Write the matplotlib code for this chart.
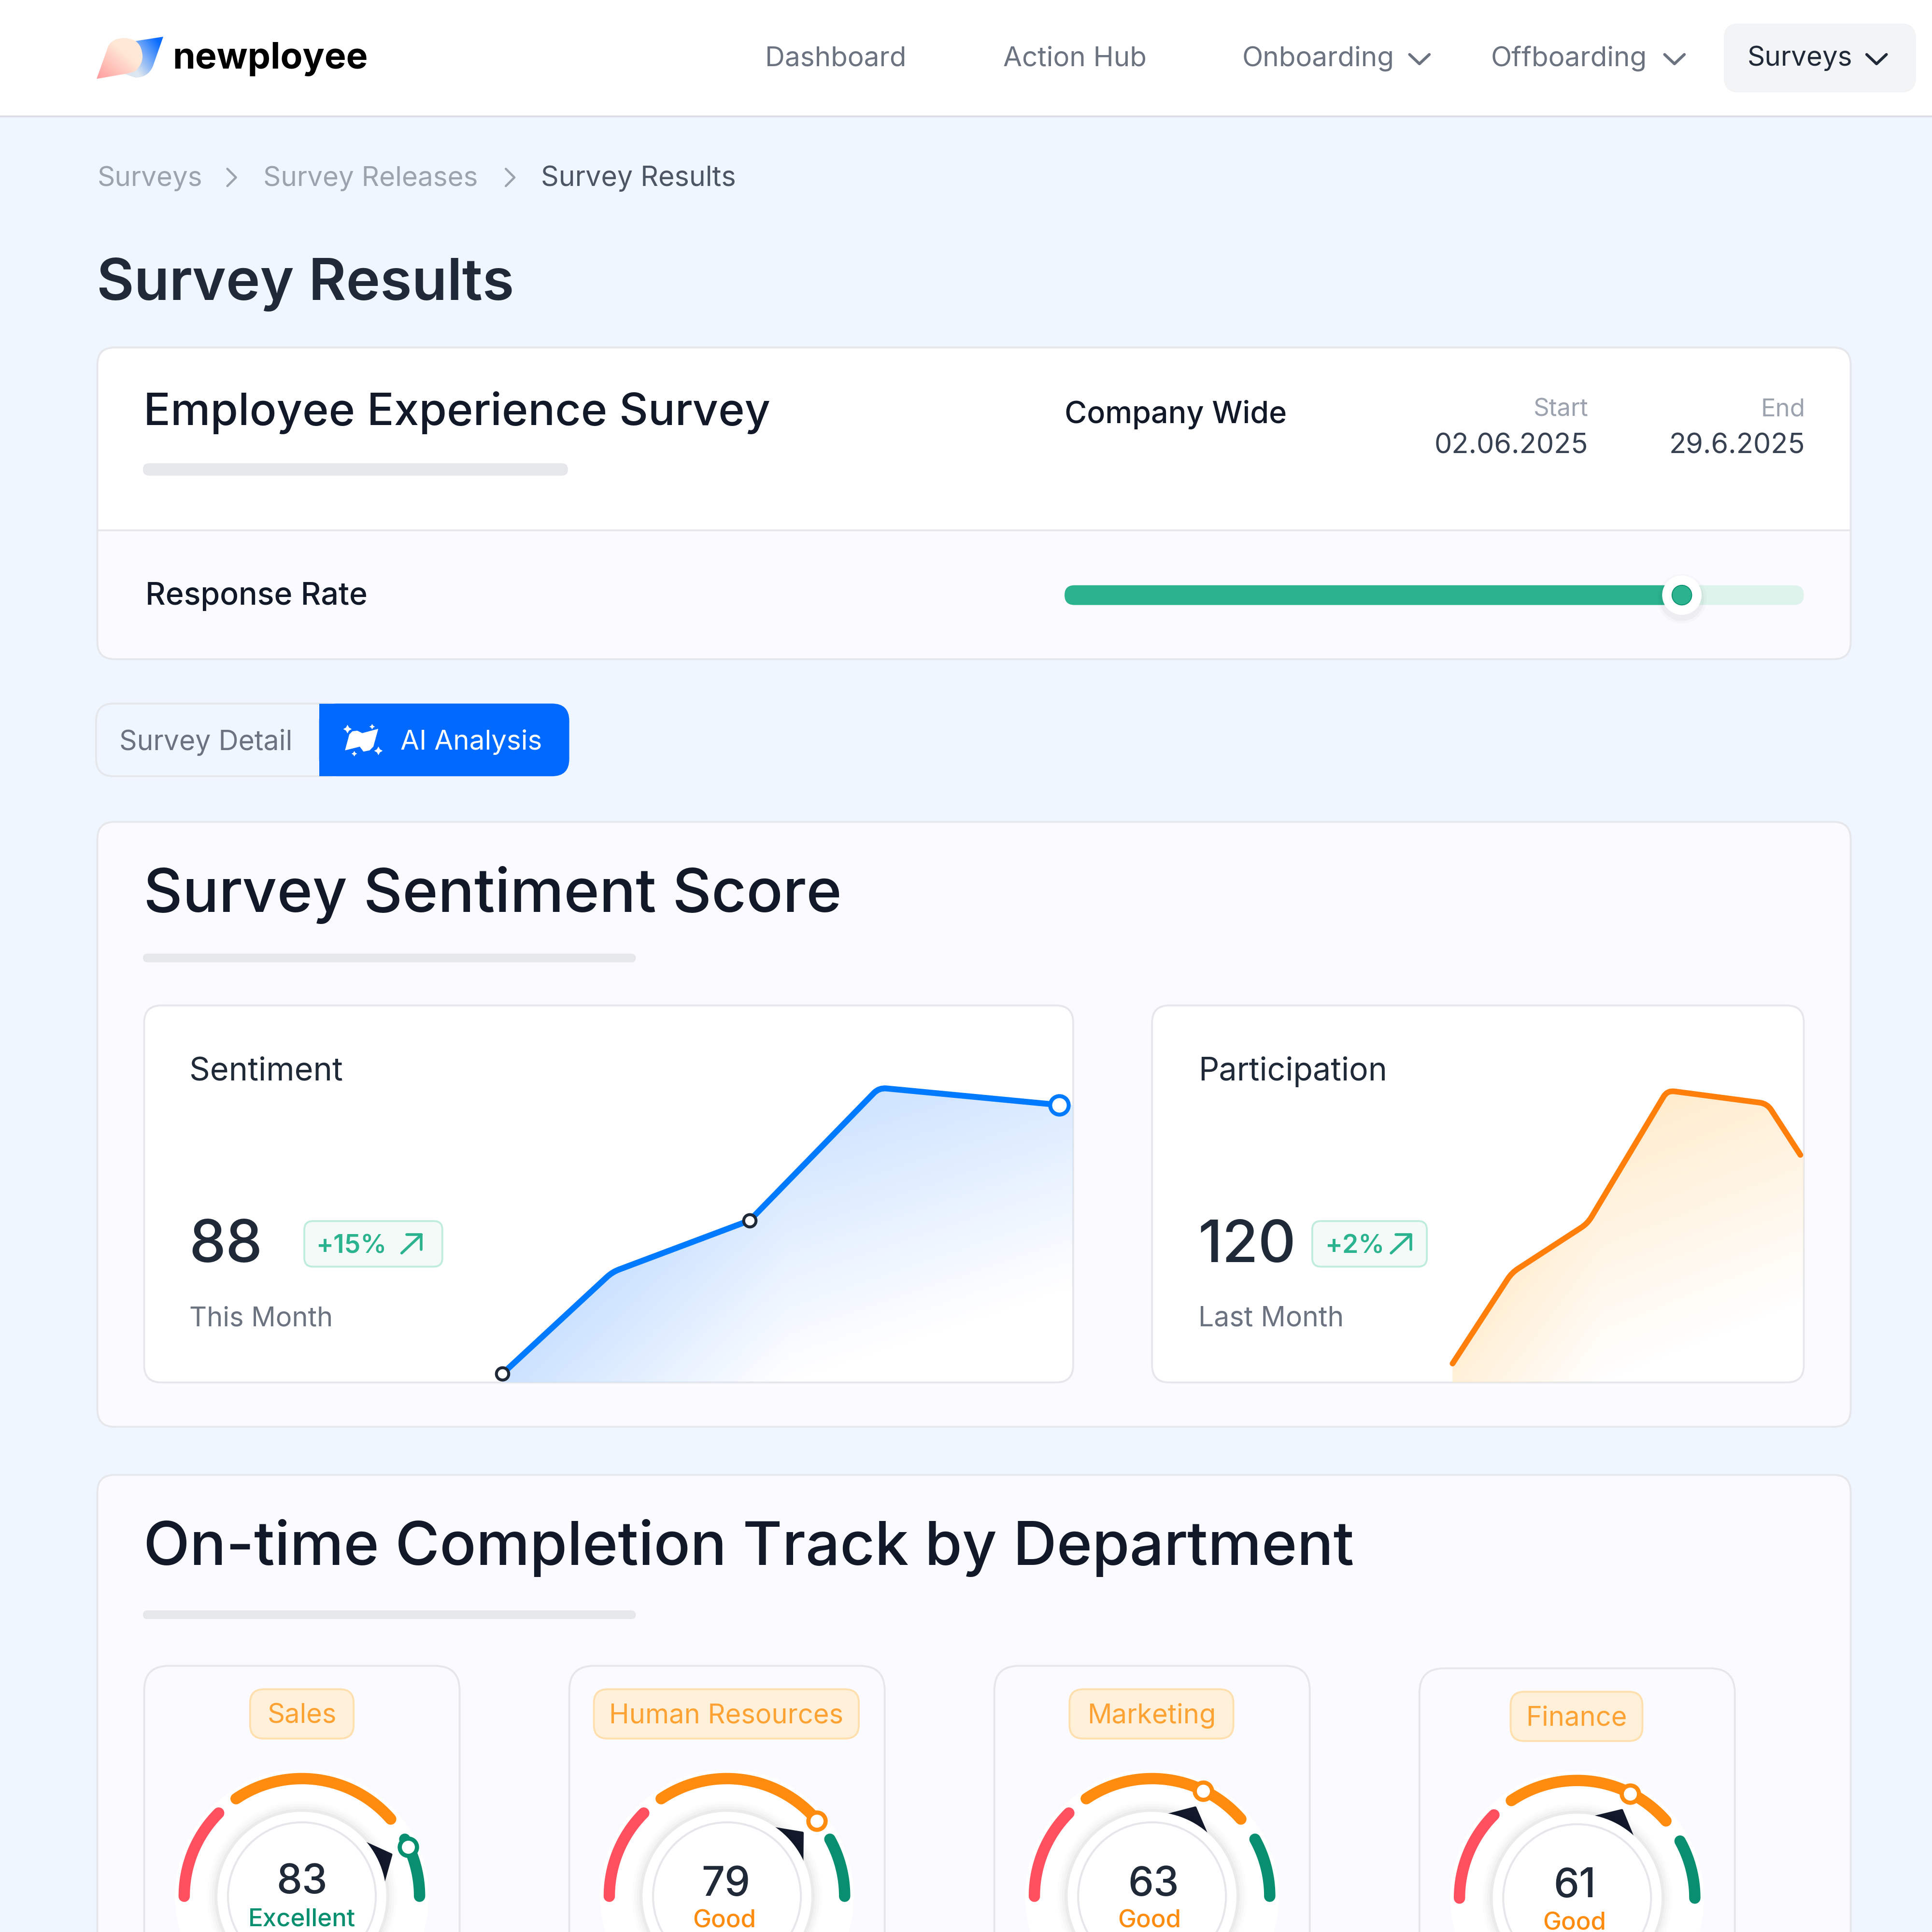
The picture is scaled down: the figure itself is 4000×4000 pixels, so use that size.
#!/usr/bin/env python3
"""Survey results dashboard: header, sentiment line charts, department gauges."""
import numpy as np
import matplotlib.pyplot as plt
from matplotlib.colors import to_rgb
from matplotlib.patches import Circle, FancyBboxPatch, PathPatch, Polygon, Rectangle
from matplotlib.path import Path

plt.rcParams['font.family'] = ['Inter', 'DejaVu Sans']

# colours
BG = '#EFF6FF'
PANEL = '#FAFAFF'
EDGE = '#E5E7EB'
INK = '#1F2937'
DARK = '#111827'
GREY = '#6B7280'
LIGHT = '#9CA3AF'
BLUE = '#0069FF'
LINE_BLUE = '#007BFF'
ORANGE = '#FF8C0F'
LINE_ORANGE = '#FF7F0A'
GREEN = '#2AB38E'
DEEP_GREEN = '#078F6F'
RED = '#FF5060'
NAVY = '#141B2D'

# data
nav_items = ['Dashboard', 'Action Hub', 'Onboarding', 'Offboarding', 'Surveys']
crumbs = ['Surveys', 'Survey Releases', 'Survey Results']
response_rate = 83.5

sentiment_x = [3.3, 21.9, 45.2, 67.1, 97.6]
sentiment_y = [2.6, 32.7, 48.0, 87.3, 82.2]
participation_x = [9.2, 24.5, 44.1, 64.7, 90.5, 99.1]
participation_y = [5.6, 32.5, 47.1, 86.5, 82.6, 67.4]

departments = ['Sales', 'Human Resources', 'Marketing', 'Finance']
scores = [83, 79, 63, 61]
ratings = ['Excellent', 'Good', 'Good', 'Good']
marker_angles = [25, 40, 64, 63]
zone_starts = [180, 124, 29]
zone_ends = [135, 41, 0]

S = 1568
fig = plt.figure(figsize=(10, 10), dpi=400, facecolor=BG)
ax = fig.add_axes([0, 0, 1, 1])
ax.set_xlim(0, S)
ax.set_ylim(S, 0)
ax.axis('off')

FS = 4000 / S * 72 / 400  # layout unit to points


def text(x, y, s, size, color=INK, weight='normal', ha='left', z=10):
    # va center sits high for latin text, push it down with the size
    return ax.text(x, y + size * 0.09, s, fontsize=size * FS, color=color, fontweight=weight,
                   ha=ha, va='center', zorder=z)


def box(x0, y0, x1, y1, r, face, edge=None, lw=1.5, z=2):
    p = FancyBboxPatch((x0, y0), x1 - x0, y1 - y0, boxstyle=f'round,pad=0,rounding_size={r}',
                       facecolor=face, edgecolor=edge if edge else 'none',
                       linewidth=lw * FS, zorder=z)
    ax.add_patch(p)
    return p


def chevron_down(x, y, w=8, h=3.8, color=GREY):
    ax.plot([x - w, x, x + w], [y - h, y + h, y - h], color=color, lw=2.3 * FS,
            solid_capstyle='round', solid_joinstyle='round', zorder=10)


def chevron_right(x, y, w=3.5, h=7, color=LIGHT):
    ax.plot([x - w, x + w, x - w], [y - h, y, y + h], color=color, lw=1.8 * FS,
            solid_capstyle='round', solid_joinstyle='round', zorder=10)


def gradient_patch(verts, codes, c0, c1, coef, z=5):
    path = Path(verts + [verts[0]], [Path.MOVETO] + codes + [Path.CLOSEPOLY])
    xs = [v[0] for v in verts]
    ys = [v[1] for v in verts]
    g = np.linspace(0, 1, 64)
    gx, gy = np.meshgrid(g, g)
    t = np.clip(coef[0] * gx + coef[1] * gy + coef[2], 0, 1)[:, :, None]
    rgb = np.array(to_rgb(c0)) + (np.array(to_rgb(c1)) - np.array(to_rgb(c0))) * t
    im = ax.imshow(rgb, extent=(min(xs), max(xs), max(ys), min(ys)), aspect='auto', zorder=z)
    im.set_clip_path(PathPatch(path, transform=ax.transData))


def rounded_path(xs, ys, radius, sx, sy):
    # small curve at every inner vertex, radius in layout units
    verts = [(xs[0], ys[0])]
    codes = [Path.MOVETO]
    for i in range(1, len(xs) - 1):
        p = np.array([xs[i], ys[i]])
        a = np.array([xs[i - 1], ys[i - 1]])
        b = np.array([xs[i + 1], ys[i + 1]])
        la = np.hypot((a - p)[0] * sx, (a - p)[1] * sy)
        lb = np.hypot((b - p)[0] * sx, (b - p)[1] * sy)
        verts += [tuple(p + (a - p) * radius / la), tuple(p), tuple(p + (b - p) * radius / lb)]
        codes += [Path.LINETO, Path.CURVE3, Path.CURVE3]
    verts.append((xs[-1], ys[-1]))
    codes.append(Path.LINETO)
    return verts, codes


# top bar
ax.add_patch(Rectangle((0, 0), S, 94, facecolor='white', edgecolor='none', zorder=1))
ax.plot([0, S], [94.5, 94.5], color='#DCDCE8', lw=1.4 * FS, zorder=2)

# logo
L, C3 = Path.LINETO, Path.CURVE3
gradient_patch([(110, 33.3), (132.5, 29.8), (124, 54), (120, 63), (110, 63), (101, 60)],
               [L, L, C3, C3, L],
               '#0A6CFF', '#DCE6F0', (-0.9, 0.7, 0.7))
gradient_patch([(78.4, 64), (86.8, 40.5), (89, 31), (100.8, 30.9), (115, 31), (115.7, 45.8),
                (115.7, 52), (110, 57.5), (106, 59.5), (101.3, 60)],
               [L, C3, C3, C3, C3, C3, C3, C3, C3],
               '#FF9C9E', '#FFE9D6', (0.8, -0.8, 0.8), z=6)
text(140, 45.5, 'newployee', 29.5, 'black', 'bold')
ax.set_xlim(0, S)
ax.set_ylim(S, 0)

# nav
nav_x = [621, 814, 1008, 1210, 1418]
box(1399, 19, 1555, 75, 12, '#F3F4F6', z=2)
for lab, nx in zip(nav_items, nav_x):
    text(nx, 45.5, lab, 22.2, INK if lab == 'Surveys' else GREY)
chevron_down(1152, 48)
chevron_down(1359, 48)
chevron_down(1523, 48, color=INK)

# breadcrumb
text(79, 143, crumbs[0], 22.2, LIGHT)
chevron_right(188, 144)
text(213.5, 143, crumbs[1], 22.2, LIGHT)
chevron_right(414, 144)
text(439, 143, crumbs[2], 22.5, '#4B5563')

text(78.5, 226.5, 'Survey Results', 46.8, INK, 'semibold')

# survey card
box(79, 282, 1502, 535, 14, PANEL, EDGE)
ax.add_patch(Rectangle((80, 296), 1421, 134, facecolor='white', edgecolor='none', zorder=2))
box(80, 283, 1501, 320, 13, 'white', z=2)
ax.plot([80, 1501], [430.5, 430.5], color=EDGE, lw=1.5 * FS, zorder=3)
text(116.5, 331.5, 'Employee Experience Survey', 36.4, DARK, 'medium')
box(116, 376, 461, 386, 5, EDGE)
text(864, 334.5, 'Company Wide', 24.7, DARK, 'medium')
text(1289, 330.5, 'Start', 20, LIGHT, ha='right')
text(1289, 360, '02.06.2025', 22.6, '#374151', ha='right')
text(1465, 330.5, 'End', 20, LIGHT, ha='right')
text(1465, 360, '29.6.2025', 22.6, '#374151', ha='right')
text(118, 482, 'Response Rate', 25.3, DARK, 'medium')

# progress bar
bar_x0, bar_x1 = 864, 1464
knob_x = bar_x0 + (bar_x1 - bar_x0) * response_rate / 100
box(bar_x0, 475, bar_x1, 491, 8, '#DDF3EC', z=3)
box(bar_x0, 475, knob_x, 491, 8, GREEN, z=4)
for r, al in zip([20, 18], [0.02, 0.03]):
    ax.add_patch(Circle((knob_x, 486), r, facecolor='black', alpha=al, edgecolor='none', zorder=5))
ax.add_patch(Circle((knob_x, 483), 16, facecolor='white', edgecolor='none', zorder=6))
ax.add_patch(Circle((knob_x, 483), 8, facecolor=GREEN, edgecolor=DEEP_GREEN, lw=0.7 * FS, zorder=7))

# tabs
box(78, 571, 280, 630, 14, BG, EDGE, z=2)
box(259, 571, 462, 630, 14, BLUE, z=3)
ax.add_patch(Rectangle((259, 571), 30, 59, facecolor=BLUE, edgecolor='none', zorder=3))
text(97, 600.5, 'Survey Detail', 22.4, GREY)
text(325, 600.5, 'AI Analysis', 22.2, 'white')
ax.add_patch(Polygon([(280, 609), (283.5, 596), (286, 593.5), (290, 593), (294, 595), (307, 591.5),
                      (303, 606), (300, 609), (295, 610), (292, 606)],
                     facecolor='white', edgecolor='none', zorder=5))
ax.plot([282, 307], [591.6, 609], ls='none', marker=(4, 1, 0), ms=7 * FS, color='white', mew=0, zorder=5)
ax.plot([302, 287.4], [589.6, 611.6], ls='none', marker=(4, 1, 0), ms=4.5 * FS, color='white', mew=0, zorder=5)

# sentiment section
box(79, 667, 1502, 1158, 14, PANEL, EDGE)
text(116.5, 722, 'Survey Sentiment Score', 49.1, DARK, 'medium')
box(116, 774, 516, 781, 3.5, EDGE)
box(117, 816, 871, 1122, 14, 'white', EDGE, z=3)
box(935, 816, 1464, 1122, 14, 'white', EDGE, z=3)


def badge(x0, x1, label, tx, ax0):
    box(x0, 991, x1, 1028, 7, '#F3FAF8', '#BFECDF', z=5)
    text(tx, 1009.5, label, 21, GREEN, 'semibold')
    ax.plot([ax0, ax0 + 16], [1017, 1002], color=GREEN, lw=2.2 * FS, solid_capstyle='round', zorder=10)
    ax.plot([ax0 + 4, ax0 + 16, ax0 + 16], [1002, 1002, 1014], color=GREEN, lw=2.2 * FS,
            solid_capstyle='round', solid_joinstyle='round', zorder=10)


text(153.5, 867.5, 'Sentiment', 26.2, INK)
text(153.5, 1007.5, '88', 47.5, INK, 'medium')
badge(247, 359, '+15%', 256.5, 326)
text(153.5, 1068.5, 'This Month', 22, GREY)
text(972.5, 867.5, 'Participation', 26, INK)
text(972.5, 1007.5, '120', 47.5, INK, 'medium')
badge(1065, 1158, '+2%', 1075.5, 1129)
text(972.5, 1068.5, 'Last Month', 22.4, GREY)


def line_chart(px0, px1, xs, ys, color, fill_color, u0, a_left, a_right, lw):
    # inset axes in percent units, bottom edge sits on the card border
    py0, py1 = 848, 1122
    sx, sy = (px1 - px0) / 100, (py1 - py0) / 100
    cax = fig.add_axes([px0 / S, 1 - py1 / S, (px1 - px0) / S, (py1 - py0) / S], zorder=3)
    cax.set_xlim(0, 100)
    cax.set_ylim(0, 100)
    cax.axis('off')
    cax.patch.set_alpha(0)

    verts, codes = rounded_path(xs, ys, 6, sx, sy)

    fill_verts = list(verts)
    fill_codes = list(codes)
    if xs[-1] < 100:
        fill_verts.append((100, ys[-1]))
        fill_codes.append(Path.LINETO)
    fill_verts += [(fill_verts[-1][0], 0), (xs[0], 0), (xs[0], ys[0])]
    fill_codes += [Path.LINETO, Path.LINETO, Path.CLOSEPOLY]

    # soft diagonal fade to white towards the lower right
    gx, gy = np.meshgrid(np.linspace(px0, px1, 200), np.linspace(py0, py1, 200))
    u = gx - u0
    v = py1 - gy
    rgba = np.zeros((200, 200, 4))
    rgba[:, :, :3] = to_rgb(fill_color)
    rgba[:, :, 3] = np.clip(0.0045 * v - np.where(u < 0, a_left, a_right) * u, 0, 1)
    im = cax.imshow(rgba, extent=(0, 100, 0, 100), origin='upper', aspect='auto', zorder=1)
    clip = PathPatch(Path(fill_verts, fill_codes), transform=cax.transData, facecolor='none', edgecolor='none')
    cax.add_patch(clip)
    im.set_clip_path(clip)

    cax.add_patch(PathPatch(Path(verts, codes), facecolor='none', edgecolor=color, lw=lw * FS,
                            capstyle='round', joinstyle='round', clip_on=False, zorder=2))
    return cax


sent_ax = line_chart(392, 871, sentiment_x, sentiment_y, LINE_BLUE, '#CCE2FF', 640, 0.0043, 0.0015, 4.8)
sent_ax.plot(sentiment_x[0], sentiment_y[0], 'o', ms=10 * FS, mfc='white', mec=INK, mew=2.4 * FS,
             clip_on=False, zorder=4)
sent_ax.plot(sentiment_x[2], sentiment_y[2], 'o', ms=10 * FS, mfc='white', mec=INK, mew=2.4 * FS,
             clip_on=False, zorder=4)
sent_ax.plot(sentiment_x[4], sentiment_y[4], 'o', ms=15 * FS, mfc='white', mec=LINE_BLUE, mew=3.2 * FS,
             clip_on=False, zorder=4)
line_chart(1150, 1464, participation_x, participation_y, LINE_ORANGE, '#FFEBCB', 1300, 0.006, 0.0018, 4.6)

# completion section
box(79, 1197, 1502, 1700, 14, PANEL, EDGE)
text(116.5, 1252, 'On-time Completion Track by Department', 49.1, DARK, 'medium')
box(116, 1307, 516, 1314, 3.5, EDGE)

card_x = [117, 462, 807, 1152]
card_top = [1352, 1352, 1352, 1354]
pill_bounds = [(203, 287), (482, 697), (868, 1001), (1226, 1333)]
gauge_x = [245, 590, 935, 1280]
gauge_y = [1539, 1539, 1539, 1540.5]
score_pos = [(245, 1525), (589, 1527), (936, 1527), (1278, 1528)]
label_pos = [(245, 1556), (588, 1557), (933, 1557), (1278, 1559)]
zone_colors = [RED, ORANGE, DEEP_GREEN]


def polar(cx, cy, r, deg):
    t = np.radians(deg)
    return cx + r * np.cos(t), cy - r * np.sin(t)


for i, dept in enumerate(departments):
    top = card_top[i]
    box(card_x[i], top, card_x[i] + 256, 1700, 20, PANEL, EDGE, z=2)
    p0, p1 = pill_bounds[i]
    box(p0, top + 19, p1, top + 59, 11, '#FFF1D9', '#FFDFAD', z=3)
    text((p0 + p1) / 2, top + 38.5, dept, 22, '#FFA234', ha='center', z=5)

    cx, cy = gauge_x[i], gauge_y[i]
    ax.add_patch(Circle((cx, cy), 103, facecolor='white', edgecolor='none', zorder=3))

    for a0, a1, zc in zip(zone_starts, zone_ends, zone_colors):
        t = np.linspace(a0, a1, 80)
        gx, gy = polar(cx, cy, 95.5, t)
        ax.plot(gx, gy, color=zc, lw=9.2 * FS, solid_capstyle='round', zorder=4)

    # needle sits under the centre disc
    ang = marker_angles[i]
    tip = polar(cx, cy, 80, ang)
    mid = polar(cx, cy, 50, ang)
    nx, ny = np.sin(np.radians(ang)), np.cos(np.radians(ang))
    ax.add_patch(Polygon([tip, (mid[0] + 35 * nx, mid[1] + 35 * ny), (mid[0] - 35 * nx, mid[1] - 35 * ny)],
                         facecolor=NAVY, edgecolor=NAVY, lw=2 * FS, joinstyle='round', zorder=4))

    for r, al in zip([77, 75, 73, 71], [0.012, 0.015, 0.02, 0.03]):
        ax.add_patch(Circle((cx, cy), r, facecolor='black', alpha=al, edgecolor='none', zorder=4.2))
    ax.add_patch(Circle((cx, cy), 68.5, facecolor='white', edgecolor='none', zorder=4.5))
    ax.add_patch(Circle((cx, cy), 60, facecolor='white', edgecolor=EDGE, lw=1.6 * FS, zorder=4.6))

    mx, my = polar(cx, cy, 95, ang)
    mc = DEEP_GREEN if ang < zone_ends[1] - 5 else ORANGE
    ax.plot(mx, my, 'o', ms=14 * FS, mfc='white', mec=mc, mew=3.4 * FS, zorder=6)

    text(score_pos[i][0], score_pos[i][1], str(scores[i]), 33, INK, 'medium', ha='center')
    rc = DEEP_GREEN if ratings[i] == 'Excellent' else ORANGE
    text(label_pos[i][0], label_pos[i][1], ratings[i], 20, rc, 'medium', ha='center')

fig.savefig('out.png', dpi=400, facecolor=BG)
